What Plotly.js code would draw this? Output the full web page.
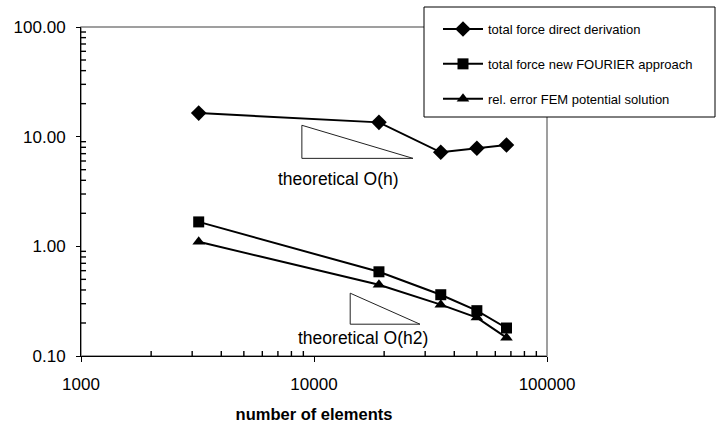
<!DOCTYPE html>
<html>
<head>
<meta charset="utf-8">
<script src="https://cdn.plot.ly/plotly-3.0.1.min.js"></script>
<style>html,body{margin:0;padding:0;background:#fff;}#chart{width:720px;height:430px;}</style>
</head>
<body>
<div id="chart"></div>
<script>
// Data
var elements = [3200, 19000, 35000, 50000, 67000];
var directDerivation = [16.4, 13.5, 7.2, 7.85, 8.4];
var fourierApproach = [1.67, 0.586, 0.362, 0.259, 0.18];
var femPotential = [1.10, 0.447, 0.294, 0.224, 0.147];

var seriesNames = ["total force direct derivation", "total force new FOURIER approach", "rel. error FEM potential solution"];

// Reference slope triangles (axis units)
var triOhX = [8870, 8870, 26600, 8870];
var triOhY = [12.7, 6.34, 6.34, 12.7];
var triOh2X = [14300, 14300, 28500, 14300];
var triOh2Y = [0.374, 0.195, 0.195, 0.374];
var triLabels = ["theoretical O(h)", "theoretical O(h2)"];
var triLabelX = [12800, 16200];
var triLabelY = [4.08, 0.146];

var axisTitle = "number of elements";

var font = "Arial, 'Liberation Sans', sans-serif";

// plot area in pixels: x 81..547, y 27..356
var PL = 81, PR = 547, PT = 27, PB = 356;
var X_RANGE = [3, 5], Y_RANGE = [-1, 2];
function px(x) { return (x - PL) / (PR - PL); }
function py(y) { return (PB - y) / (PB - PT); }

// minor tick positions (2..9 per decade)
function minorVals(lo, hi) {
  var v = [];
  for (var e = lo; e < hi; e++) for (var m = 2; m <= 9; m++) v.push(m * Math.pow(10, e));
  return v;
}
// minor tick marks (inside) as short line segments through the axis scales
var TICK_PX = 5;
var yTickFactor = Math.pow(10, TICK_PX * (Y_RANGE[1] - Y_RANGE[0]) / (PB - PT));
var xTickFactor = Math.pow(10, TICK_PX * (X_RANGE[1] - X_RANGE[0]) / (PR - PL));
var xMinorX = [], xMinorY = [], yMinorX = [], yMinorY = [];
var yBase = Math.pow(10, Y_RANGE[0]), xBase = Math.pow(10, X_RANGE[0]);
minorVals(X_RANGE[0], X_RANGE[1]).forEach(function(v) {
  xMinorX.push(v, v, null); xMinorY.push(yBase, yBase * yTickFactor, null);
});
minorVals(Y_RANGE[0], Y_RANGE[1]).forEach(function(v) {
  yMinorY.push(v, v, null); yMinorX.push(xBase, xBase * xTickFactor, null);
});

function series(y, name, symbol, size, group) {
  return {
    x: elements, y: y, name: name, type: 'scatter', mode: 'lines+markers',
    line: {color: '#000', width: 2},
    marker: {symbol: symbol, size: size, color: '#000'},
    legendgroup: group
  };
}

var traces = [
  {x: xMinorX, y: xMinorY, type: 'scatter', mode: 'lines', line: {color: '#000', width: 1.4}, showlegend: false, hoverinfo: 'skip', connectgaps: false, cliponaxis: false},
  {x: yMinorX, y: yMinorY, type: 'scatter', mode: 'lines', line: {color: '#000', width: 1.4}, showlegend: false, hoverinfo: 'skip', connectgaps: false, cliponaxis: false},
  {x: triOhX, y: triOhY, type: 'scatter', mode: 'lines', line: {color: '#222', width: 1}, showlegend: false, hoverinfo: 'skip'},
  {x: triOh2X, y: triOh2Y, type: 'scatter', mode: 'lines', line: {color: '#222', width: 1}, showlegend: false, hoverinfo: 'skip'},
  series(directDerivation, seriesNames[0], 'diamond', 12, 'a'),
  series(fourierApproach, seriesNames[1], 'square', 11, 'b'),
  series(femPotential, seriesNames[2], 'triangle-up', 11, 'c')
];

var shapes = [
  {type: 'rect', xref: 'paper', yref: 'paper', x0: 0, x1: 1, y0: 0, y1: 1,
   line: {color: '#808080', width: 1.5}, layer: 'below'},
  {type: 'rect', xref: 'paper', yref: 'paper', x0: px(424), x1: px(715), y0: py(117), y1: py(7),
   line: {color: '#000', width: 1}, fillcolor: '#fff', layer: 'above'}
];

var layout = {
  width: 720, height: 430,
  margin: {l: PL, r: 720 - PR, t: PT, b: 430 - PB, pad: 0, autoexpand: false},
  paper_bgcolor: '#fff', plot_bgcolor: '#fff',
  font: {family: font, size: 17, color: '#000'},
  showlegend: true,
  legend: {
    xref: 'container', yref: 'container',
    x: 438/720, y: 1 - 14/430, xanchor: 'left', yanchor: 'top',
    bgcolor: 'rgba(0,0,0,0)', borderwidth: 0,
    font: {family: font, size: 13, color: '#000'},
    itemwidth: 40,
    traceorder: 'grouped', tracegroupgap: 15
  },
  xaxis: {
    type: 'log', range: X_RANGE,
    tickmode: 'linear', tick0: 0, dtick: 1, tickformat: 'd',
    ticks: 'outside', ticklen: 5, tickcolor: '#000', tickwidth: 1,
    showline: true, linecolor: '#000', linewidth: 1,
    showgrid: false, zeroline: false,
    ticklabelstandoff: 8,
    tickfont: {family: font, size: 17},
    title: {text: '<b>' + axisTitle + '</b>', font: {family: font, size: 16.5}, standoff: 15}
  },
  yaxis: {
    type: 'log', range: Y_RANGE,
    tickmode: 'linear', tick0: 0, dtick: 1, tickformat: '.2f',
    ticks: 'outside', ticklen: 4, tickcolor: '#000', tickwidth: 1,
    showline: true, linecolor: '#000', linewidth: 1,
    showgrid: false, zeroline: false,
    ticklabelstandoff: 7,
    tickfont: {family: font, size: 17}
  },
  shapes: shapes,
  annotations: triLabels.map(function(t, i) {
    return {x: Math.log10(triLabelX[i]), y: Math.log10(triLabelY[i]), xref: 'x', yref: 'y',
            text: t, showarrow: false, font: {family: font, size: 17.5, color: '#000'}};
  })
};

Plotly.newPlot('chart', traces, layout, {displayModeBar: false, staticPlot: true});
</script>
</body>
</html>
